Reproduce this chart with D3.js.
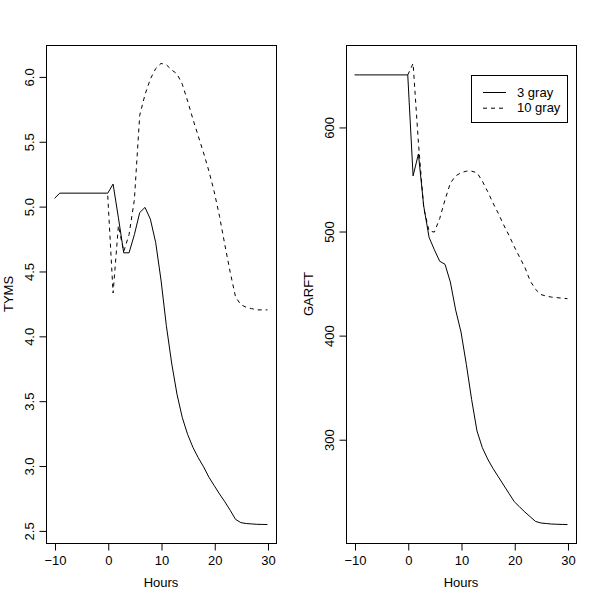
<!DOCTYPE html>
<html>
<head>
<meta charset="utf-8">
<script src="https://cdn.jsdelivr.net/npm/d3@7"></script>
<style>
  body { margin: 0; background: #fff; }
  text { font-family: "Liberation Sans", Arial, sans-serif; }
</style>
</head>
<body>
<div id="chart"></div>
<script>
// Data ==========
const hours = [-10, -9, 0, 1, 2, 3, 4, 5, 6, 7, 8, 9, 10, 11, 12, 13, 14, 15, 16, 17, 18, 19, 20, 21, 22, 23, 24, 25, 26, 27, 28, 29, 30];

const tymsGray3 = [5.06, 5.10, 5.10, 5.17, 4.91, 4.64, 4.64, 4.78, 4.95, 4.99, 4.90, 4.72, 4.43, 4.08, 3.79, 3.55, 3.37, 3.24, 3.14, 3.06, 2.99, 2.91, 2.845, 2.78, 2.72, 2.655, 2.585, 2.56, 2.553, 2.55, 2.547, 2.546, 2.545];
const tymsGray10 = [null, null, 5.08, 4.33, 4.85, 4.65, 4.78, 5.05, 5.70, 5.86, 5.98, 6.06, 6.10, 6.09, 6.05, 6.02, 5.94, 5.81, 5.67, 5.54, 5.41, 5.27, 5.11, 4.92, 4.70, 4.49, 4.30, 4.24, 4.22, 4.21, 4.20, 4.20, 4.20];

const garftGray3 = [650, 650, 650, 553, 574, 524, 494, 482, 471, 468, 451, 424, 403, 372, 338, 308, 292, 281, 272, 264, 256, 248, 240, 235, 230, 225.5, 221, 219.5, 219, 218.5, 218.3, 218.1, 218];
const garftGray10 = [null, null, 650, 661, 585, 522, 500, 499, 512, 530, 546, 553, 556, 557.5, 557.5, 556, 548, 538, 527, 517, 506, 496, 485, 475, 465, 452, 444, 439, 437.5, 436.5, 436, 435.5, 435];

const xTicks = [-10, 0, 10, 20, 30];
const tymsTicks = [2.5, 3.0, 3.5, 4.0, 4.5, 5.0, 5.5, 6.0];
const garftTicks = [300, 400, 500, 600];
const legendLabels = ["3 gray", "10 gray"];

function draw() {
  const dimensions = {
    width: 600,
    height: 600,
    top: 45,
    bottom: 543,
    panelWidth: 230,
    fontSize: 13,
    tick: 7,
  };
  const dash = "4,4";

  // R style axis padding (4% each side)
  const pad = (values) => {
    const [lo, hi] = d3.extent(values.filter((v) => v != null));
    const r = (hi - lo) * 0.04;
    return [lo - r, hi + r];
  };

  const svg = d3
    .select("#chart")
    .append("svg")
    .attr("width", dimensions.width)
    .attr("height", dimensions.height)
    .style("background-color", "#fff");

  const panels = [
    { left: 46, name: "TYMS", s3: tymsGray3, s10: tymsGray10, ticks: tymsTicks, fmt: d3.format(".1f"), legend: false },
    { left: 346, name: "GARFT", s3: garftGray3, s10: garftGray10, ticks: garftTicks, fmt: d3.format("d"), legend: true },
  ];

  panels.forEach((p) => {
    const ctr = svg.append("g").classed("panel", true);
    const right = p.left + dimensions.panelWidth;

    //Scales ==========
    const xScale = d3.scaleLinear().domain(pad(hours)).range([p.left, right]);
    const yScale = d3
      .scaleLinear()
      .domain(pad(p.s3.concat(p.s10)))
      .range([dimensions.bottom, dimensions.top]);

    //Lines ==========
    const line = d3
      .line()
      .defined((d) => d[1] != null)
      .x((d) => xScale(d[0]))
      .y((d) => yScale(d[1]));

    ctr
      .append("path")
      .datum(hours.map((h, i) => [h, p.s3[i]]))
      .attr("d", line)
      .attr("fill", "none")
      .attr("stroke", "#000")
      .attr("stroke-width", 1);

    ctr
      .append("path")
      .datum(hours.map((h, i) => [h, p.s10[i]]))
      .attr("d", line)
      .attr("fill", "none")
      .attr("stroke", "#000")
      .attr("stroke-width", 1)
      .attr("stroke-dasharray", dash);

    //Box ==========
    ctr
      .append("rect")
      .attr("x", p.left + 0.5)
      .attr("y", dimensions.top + 0.5)
      .attr("width", dimensions.panelWidth)
      .attr("height", dimensions.bottom - dimensions.top)
      .attr("fill", "none")
      .attr("stroke", "#000");

    //Axes ==========
    const xAxis = d3
      .axisBottom(xScale)
      .tickValues(xTicks)
      .tickFormat(d3.format("d"))
      .tickSize(dimensions.tick)
      .tickPadding(5);

    const xg = ctr
      .append("g")
      .attr("transform", `translate(0.5,${dimensions.bottom + 0.5})`)
      .call(xAxis);
    xg.select(".domain").remove();
    xg.selectAll("text")
      .attr("fill", "#000")
      .style("font-size", dimensions.fontSize + "px")
      .style("font-family", '"Liberation Sans", Arial, sans-serif');

    const yAxis = d3
      .axisLeft(yScale)
      .tickValues(p.ticks)
      .tickFormat(p.fmt)
      .tickSize(dimensions.tick);

    const yg = ctr
      .append("g")
      .attr("transform", `translate(${p.left + 0.5},0.5)`)
      .call(yAxis);
    yg.select(".domain").remove();
    yg.selectAll(".tick text")
      .attr("transform", "rotate(-90)")
      .attr("x", 0)
      .attr("y", -12.5)
      .attr("dy", 0)
      .attr("text-anchor", "middle")
      .attr("fill", "#000")
      .style("font-size", dimensions.fontSize + "px")
      .style("font-family", '"Liberation Sans", Arial, sans-serif');

    //Labels ==========
    ctr
      .append("text")
      .text("Hours")
      .attr("x", (p.left + right) / 2)
      .attr("y", 586.5)
      .attr("text-anchor", "middle")
      .style("font-size", dimensions.fontSize + "px");

    ctr
      .append("text")
      .text(p.name)
      .attr("transform", `translate(${p.left - 33},${(dimensions.top + dimensions.bottom) / 2}) rotate(-90)`)
      .attr("text-anchor", "middle")
      .style("font-size", dimensions.fontSize + "px");

    //Legend ==========
    if (p.legend) {
      const lg = ctr.append("g").classed("legend", true);
      lg.append("rect")
        .attr("x", 471.5)
        .attr("y", 75.5)
        .attr("width", 96)
        .attr("height", 47)
        .attr("fill", "#fff")
        .attr("stroke", "#000");

      const rows = lg
        .selectAll("g.row")
        .data(legendLabels)
        .join("g")
        .attr("transform", (d, i) => `translate(0,${92 + i * 15.7})`);

      rows
        .append("line")
        .attr("x1", 483)
        .attr("x2", 506)
        .attr("y1", 0.5)
        .attr("y2", 0.5)
        .attr("stroke", "#000")
        .attr("stroke-dasharray", (d, i) => (i === 0 ? null : dash));

      rows
        .append("text")
        .text((d) => d)
        .attr("x", 517)
        .attr("y", 4.6)
        .style("font-size", dimensions.fontSize + "px");
    }
  });
}

draw();
</script>
</body>
</html>
